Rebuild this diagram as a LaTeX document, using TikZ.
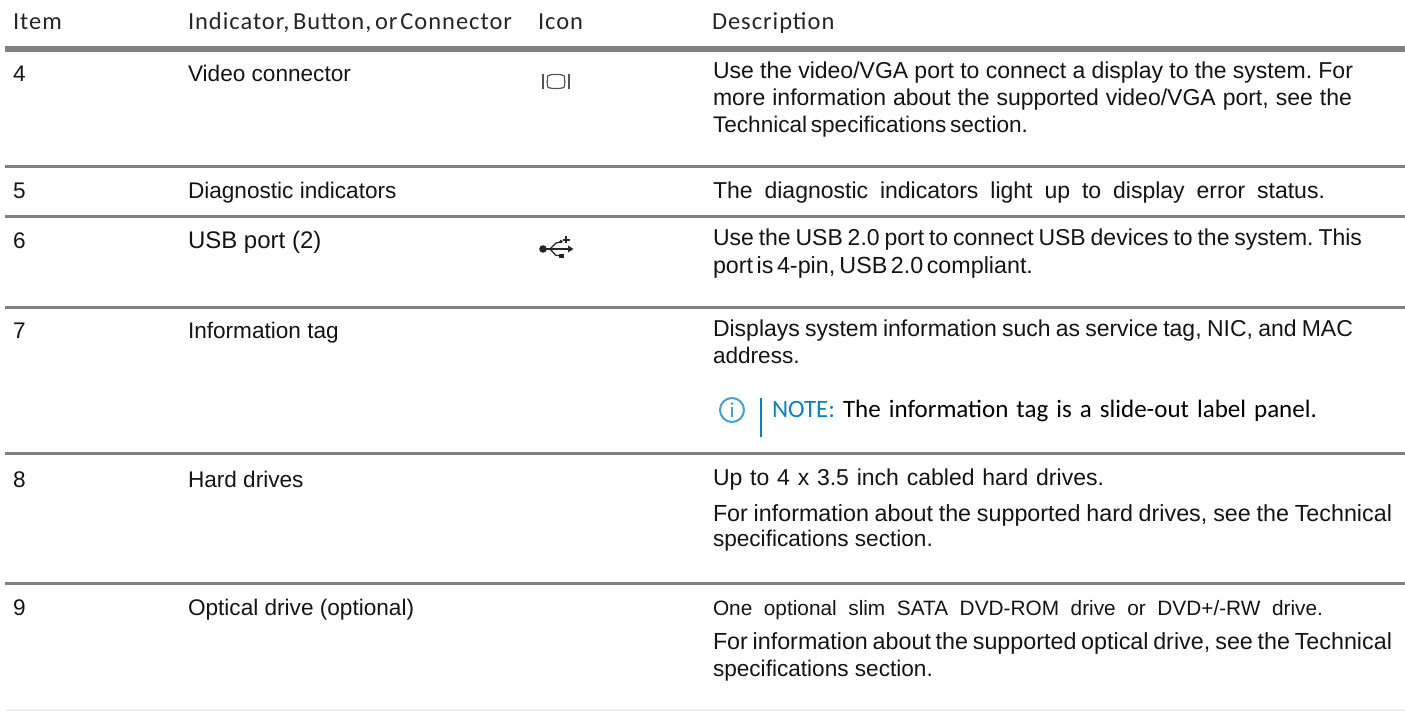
\documentclass[tikz,border=0pt]{standalone}
\usepackage{fontspec}
\setmainfont{Liberation Sans}
\newfontfamily\headfont[LetterSpace=4]{Carlito}
\newfontfamily\notefont{Carlito}
\definecolor{rulegray}{HTML}{808080}
\definecolor{noteblue}{HTML}{0A83BE}
\definecolor{icongray}{HTML}{555555}
\newcommand{\fitline}[2]{\hbox to #1pt{\spaceskip=.278em plus 1em minus .278em\xspaceskip=\spaceskip #2}}
\tikzset{
  cell/.style={anchor=base west,inner sep=0pt,outer sep=0pt,font=\fontsize{22.6}{26}\selectfont,text=black!92},
  desc/.style={cell,font=\fontsize{23}{26}\selectfont},
  tight/.style={cell,font=\fontsize{23.3}{26}\selectfont},
  wide/.style={cell,font=\fontsize{24}{26}\selectfont},
  small/.style={cell,font=\fontsize{20.8}{26}\selectfont},
  head/.style={anchor=base west,inner sep=0pt,outer sep=0pt,font=\headfont\fontsize{24.5}{26}\selectfont,text=black!85},
  note/.style={anchor=base west,inner sep=0pt,outer sep=0pt,font=\notefont\fontsize{25}{26}\selectfont},
  rowrule/.style={draw=none,fill=rulegray},
}
\begin{document}
\begin{tikzpicture}[x=1pt,y=-1pt]
\useasboundingbox (0,0) rectangle (1405,711);
% rules
\fill[rowrule] (5,46) rectangle (1405,52);
\foreach \yy in {165,215,306,452,582}{\fill[rowrule] (5,\yy) rectangle (1405,\yy+3);}
\fill[black!10] (5,709.5) rectangle (1405,710.5);
% header
\node[head] (h1) at (13,30) {Item};
\node[head] (h2) at (188,30) {\fitline{324}{Indicator, Button, or Connector}};
\node[head] (h3) at (538,30) {Icon};
\node[head] (h4) at (712,30) {Description};
% column 1 and 2
\node[cell] (a1) at (13,82) {4};
\node[cell] (b1) at (188,82) {Video connector};
\node[cell] (a2) at (13,199) {5};
\node[cell] (b2) at (188,199) {Diagnostic indicators};
\node[cell] (a3) at (13,249) {6};
\node[wide] (b3) at (188,249) {USB port (2)};
\node[cell] (a4) at (13,338) {7};
\node[cell] (b4) at (188,338) {Information tag};
\node[cell] (a5) at (13,487) {8};
\node[cell] (b5) at (188,487) {Hard drives};
\node[cell] (a6) at (13,615) {9};
\node[cell] (b6) at (188,615) {Optical drive (optional)};
% descriptions
\node[desc] (d11) at (713,79) {\fitline{640}{Use the video/VGA port to connect a display to the system. For}};
\node[desc] (d12) at (713,106) {\fitline{639}{more information about the supported video/VGA port, see the}};
\node[cell] (d13) at (713,133) {\fitline{315}{Technical specifications section.}};
\node[desc] (d21) at (713,199) {\fitline{612}{The diagnostic indicators light up to display error status.}};
\node[desc] (d31) at (713,246) {\fitline{649}{Use the USB 2.0 port to connect USB devices to the system. This}};
\node[tight] (d32) at (713,273) {\fitline{320}{port is 4-pin, USB 2.0 compliant.}};
\node[desc] (d41) at (713,336) {\fitline{640}{Displays system information such as service tag, NIC, and MAC}};
\node[cell] (d42) at (713,363) {address.};
\node[note,text=noteblue] (n1) at (772,417) {NOTE:};
\node[note,text=black] (n2) at (843,417) {\fitline{474}{The information tag is a slide-out label panel.}};
\node[desc] (d51) at (713,485) {\fitline{391}{Up to 4 x 3.5 inch cabled hard drives.}};
\node[tight] (d52) at (713,521) {\fitline{679}{For information about the supported hard drives, see the Technical}};
\node[cell] (d53) at (713,546) {specifications section.};
\node[small] (d61) at (713,615) {\fitline{610}{One optional slim SATA DVD-ROM drive or DVD+/-RW drive.}};
\node[tight] (d62) at (713,649) {\fitline{679}{For information about the supported optical drive, see the Technical}};
\node[cell] (d63) at (713,676) {specifications section.};
% video icon
\begin{scope}[icongray,line width=1.2pt]
\draw (543,74) -- (543,89);
\draw (569,74) -- (569,89);
\draw (548,75.5) .. controls (553,74) and (559,74) .. (564,75.5) .. controls (565,79) and (565,84) .. (564,87.5) .. controls (559,89) and (553,89) .. (548,87.5) .. controls (547,84) and (547,79) .. (548,75.5) -- cycle;
\end{scope}
% usb icon
\begin{scope}[black!85,line width=1.3pt]
\fill (543,249) circle (3.8);
\draw (543,249) -- (570,249);
\draw (550,249) -- (556,243) -- (561,242);
\draw (550,249) -- (556,255.5) -- (560,255.5);
\fill (559,253.8) rectangle (564,258);
\fill (561,241.5) circle (1.8);
\draw[line width=1.5pt] (562.5,240) -- (569.5,240) (566,236.5) -- (566,243.5);
\fill (568,245.5) -- (573.5,249) -- (568,252.5) -- cycle;
\end{scope}
% note icon
\draw[noteblue!75,line width=2pt] (732,410) circle (12);
\fill[noteblue!75] (732,403.5) circle (1.5);
\draw[noteblue!75,line width=2.2pt] (732,407) -- (732,417);
\draw[noteblue,line width=2.4pt] (761,398) -- (761,437);
\end{tikzpicture}
\end{document}
